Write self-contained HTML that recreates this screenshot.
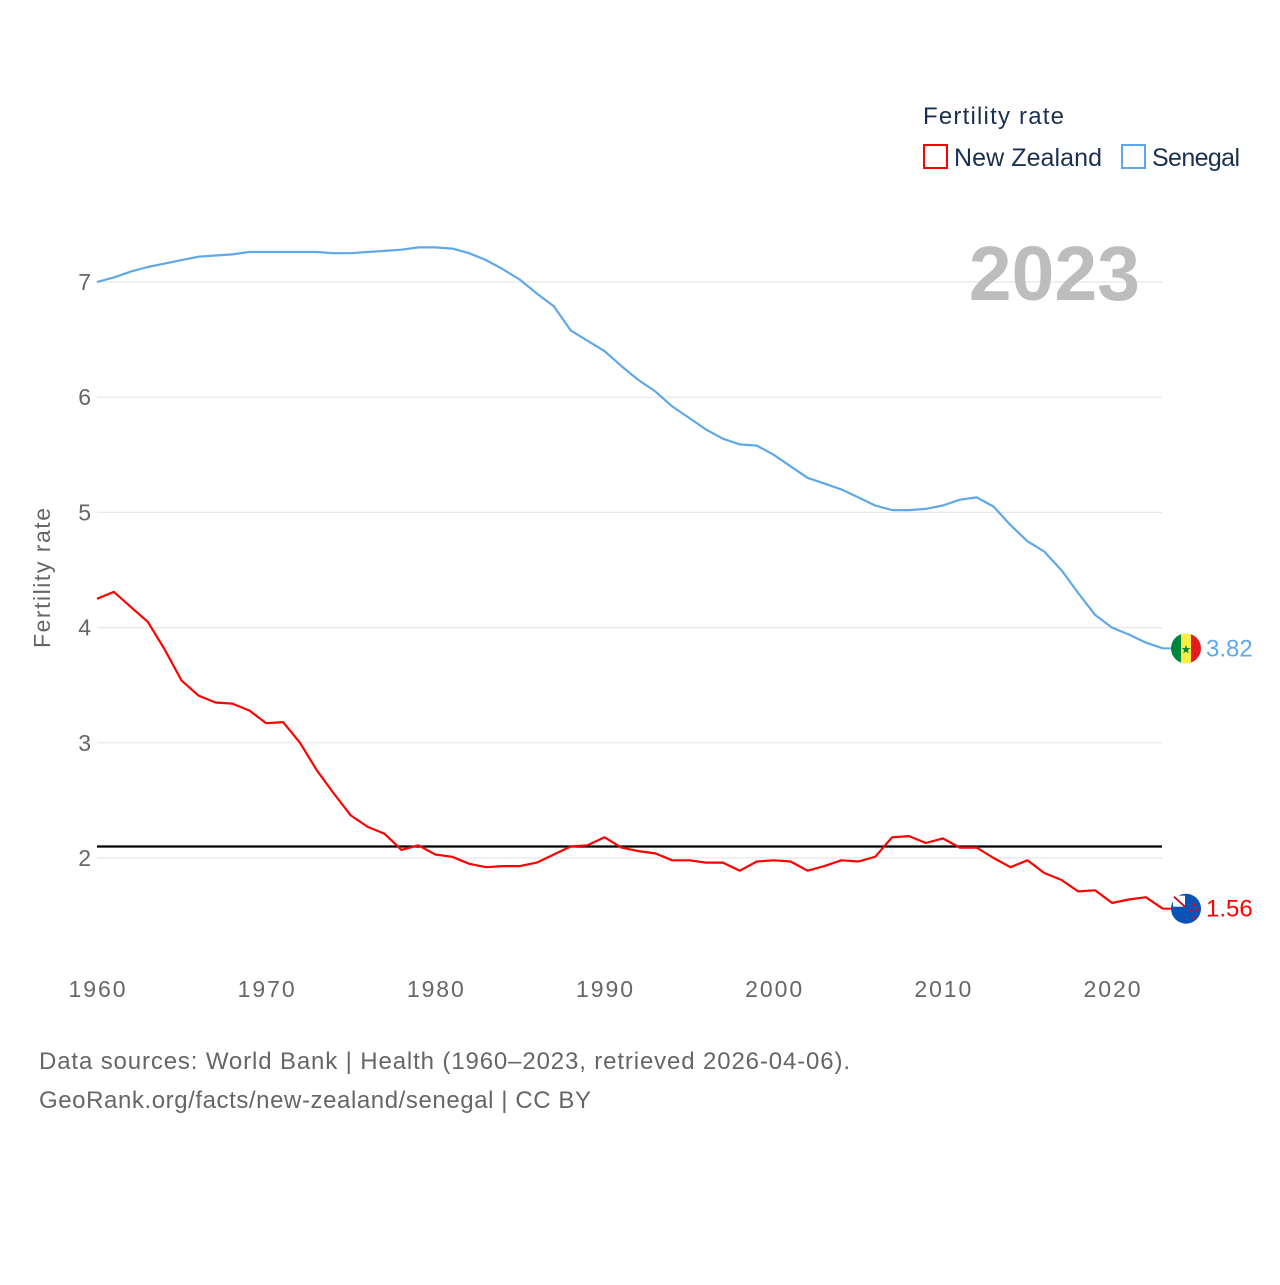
<!DOCTYPE html>
<html><head><meta charset="utf-8"><style>
body{margin:0;background:#fff;}
svg text{font-family:"Liberation Sans",sans-serif;}
</style></head><body>
<svg id="c" width="1280" height="1280" viewBox="0 0 1280 1280">
<g id="grid"></g>
<g id="yt"></g>
<g id="xt"></g>
<text x="50" y="578" transform="rotate(-90 50 578)" text-anchor="middle" font-size="23" fill="#666" textLength="140">Fertility rate</text>
<text x="1140" y="300" text-anchor="end" font-size="77" font-weight="bold" fill="#bdbdbd">2023</text>
<g id="series"></g>
<text x="923" y="124" font-size="24" fill="#1a3050" textLength="141">Fertility rate</text>
<g><rect x="924" y="145" width="23" height="23" fill="none" stroke="#f00" stroke-width="2"/><text x="954" y="166" font-size="25" fill="#1a3050" textLength="148">New Zealand</text></g>
<g><rect x="1122" y="145" width="23" height="23" fill="none" stroke="#5ea8ea" stroke-width="2"/><text x="1152" y="166" font-size="25" fill="#1a3050" textLength="88">Senegal</text></g>
<text x="39" y="1069" font-size="24" fill="#666" textLength="811">Data sources: World Bank | Health (1960–2023, retrieved 2026-04-06).</text>
<text x="39" y="1108" font-size="24" fill="#666" textLength="552">GeoRank.org/facts/new-zealand/senegal | CC BY</text>
</svg>
<script>
const years=[];for(let y=1960;y<=2023;y++)years.push(y);
const nz=[4.25,4.31,4.18,4.05,3.81,3.54,3.41,3.35,3.34,3.28,3.17,3.18,3.00,2.76,2.56,2.37,2.27,2.21,2.07,2.11,2.03,2.01,1.95,1.92,1.93,1.93,1.96,2.03,2.10,2.11,2.18,2.09,2.06,2.04,1.98,1.98,1.96,1.96,1.89,1.97,1.98,1.97,1.89,1.93,1.98,1.97,2.01,2.18,2.19,2.13,2.17,2.09,2.09,2.00,1.92,1.98,1.87,1.81,1.71,1.72,1.61,1.64,1.66,1.56];
const sn=[7.00,7.04,7.09,7.13,7.16,7.19,7.22,7.23,7.24,7.26,7.26,7.26,7.26,7.26,7.25,7.25,7.26,7.27,7.28,7.30,7.30,7.29,7.25,7.19,7.11,7.02,6.90,6.79,6.58,6.49,6.40,6.27,6.15,6.05,5.92,5.82,5.72,5.64,5.59,5.58,5.50,5.40,5.30,5.25,5.20,5.13,5.06,5.02,5.02,5.03,5.06,5.11,5.13,5.05,4.89,4.75,4.66,4.50,4.30,4.11,4.00,3.94,3.87,3.82];
const yTicks=[2,3,4,5,6,7];
const xTicks=[1960,1970,1980,1990,2000,2010,2020];
const replacement=[2.1];
const X=y=>97+(y-1960)*(1112-97)/60;
const Y=v=>858-(v-2)*115.2;
const NS="http://www.w3.org/2000/svg";
function mk(t,a,p){const e=document.createElementNS(NS,t);for(const k in a)e.setAttribute(k,a[k]);p.appendChild(e);return e;}
const grid=document.getElementById('grid'),yt=document.getElementById('yt'),xt=document.getElementById('xt'),ser=document.getElementById('series');
yTicks.forEach(v=>{
 const l=mk('line',{x1:97,x2:1162,y1:Y(v),y2:Y(v),stroke:'#e6e6e6','stroke-width':1.2},grid);
 
 
 const t=mk('text',{x:91,y:Y(v)+8,'text-anchor':'end','font-size':23,fill:'#666'},yt);t.textContent=v;
 
 
});
xTicks.forEach(v=>{
 const t=mk('text',{x:X(v),y:997,'text-anchor':'middle','font-size':23,fill:'#666',textLength:57},xt);t.textContent=v;
 
 
});
replacement.forEach(v=>{
 const l=mk('line',{x1:97,x2:1162,y1:Y(v),y2:Y(v),stroke:'#000','stroke-width':2.2},ser);
 
 
});
function line(vals,col,name){
 const d=vals.map((v,i)=>(i?'L':'M')+X(years[i]).toFixed(1)+' '+Y(v).toFixed(1)).join(' ');
 const p=mk('path',{d:d,fill:'none',stroke:col,'stroke-width':2.2,'stroke-linejoin':'round'},ser);
 
 
 const last=vals[vals.length-1],ly=Y(last);
 mk('line',{x1:X(2023),x2:1172,y1:ly,y2:ly,stroke:col,'stroke-width':2},ser);
 return ly;
}
const sy=line(sn,'#5ea8ea','senegal-line');
const ny=line(nz,'#ff0000','new-zealand-line');
const fs=mk('g',{},ser);


mk('clipPath',{id:'cs'},fs);document.getElementById('cs').appendChild(document.createElementNS(NS,'circle'));
const cc=document.querySelector('#cs circle');cc.setAttribute('cx',1186);cc.setAttribute('cy',sy);cc.setAttribute('r',15);
const gs=mk('g',{'clip-path':'url(#cs)'},fs);
mk('rect',{x:1171,y:sy-15,width:10,height:30,fill:'#00853f'},gs);
mk('rect',{x:1181,y:sy-15,width:10,height:30,fill:'#fdef42'},gs);
mk('rect',{x:1191,y:sy-15,width:10,height:30,fill:'#e31b23'},gs);
const st=mk('text',{x:1186,y:sy+5,'text-anchor':'middle','font-size':12,fill:'#00853f'},gs);st.textContent='★';
const t1=mk('text',{x:1206,y:sy+8,'font-size':24,fill:'#5ea8ea'},ser);t1.textContent=sn[sn.length-1].toFixed(2);


const fn=mk('g',{},ser);


mk('circle',{cx:1186,cy:ny,r:15,fill:'#0a52b5'},fn);
mk('rect',{x:1173,y:ny-13,width:12,height:11,fill:'#fff'},fn);
mk('line',{x1:1174,y1:ny-12,x2:1185,y2:ny-2,stroke:'#c8102e','stroke-width':2},fn);
[[1194,ny-4],[1191,ny+2],[1197,ny+1],[1194,ny+9]].forEach(p=>mk('circle',{cx:p[0],cy:p[1],r:1.5,fill:'#c8102e'},fn));
const t2=mk('text',{x:1206,y:ny+8,'font-size':24,fill:'#ff0000'},ser);t2.textContent=nz[nz.length-1].toFixed(2);


</script>
</body></html>
